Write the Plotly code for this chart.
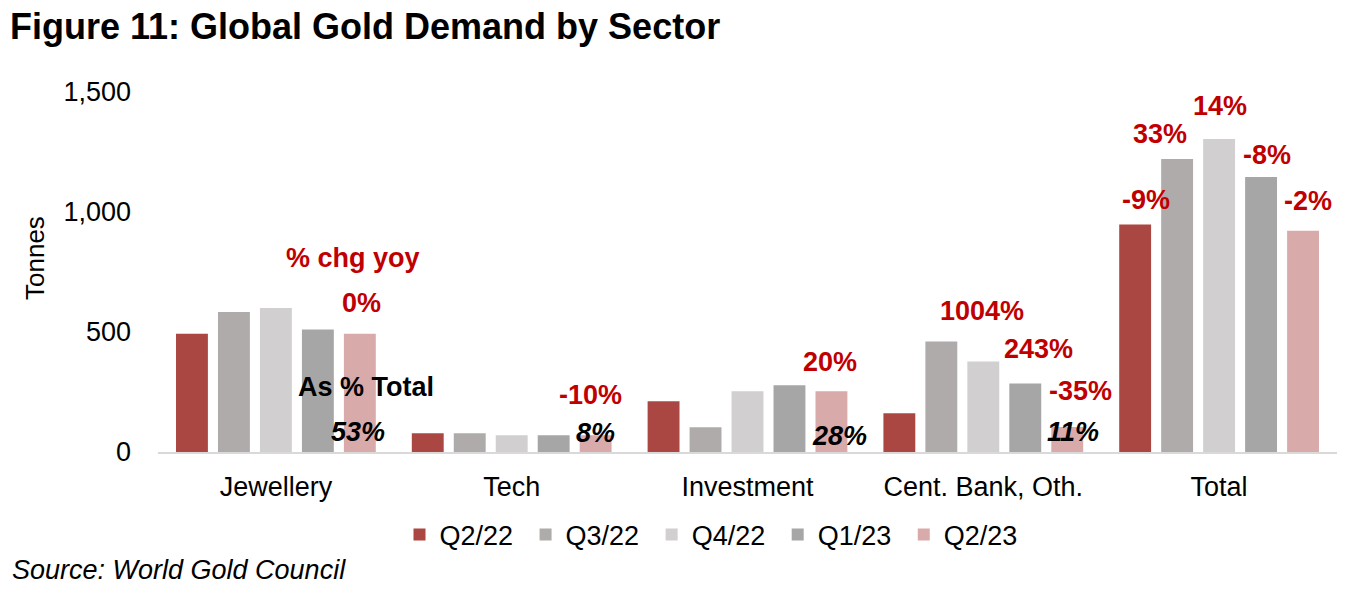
import plotly.graph_objects as go

categories = ["Jewellery", "Tech", "Investment", "Cent. Bank, Oth.", "Total"]
series_names = ["Q2/22", "Q3/22", "Q4/22", "Q1/23", "Q2/23"]
q2_22 = [493, 78, 211, 161, 948]
q3_22 = [583, 78, 103, 460, 1221]
q4_22 = [600, 70, 253, 377, 1304]
q1_23 = [510, 70, 278, 285, 1146]
q2_23 = [493, 70, 253, 104, 922]
values = [q2_22, q3_22, q4_22, q1_23, q2_23]
colors = ["#AB4743", "#AFABAA", "#D1CFD0", "#A6A6A6", "#D9AAAA"]

yoy_labels = ["0%", "-10%", "20%", "1004%", "243%", "-35%", "-9%", "33%", "14%", "-8%", "-2%"]
share_labels = ["53%", "8%", "28%", "11%"]
y_ticks = [0, 500, 1000, 1500]
y_tick_text = ["0", "500", "1,000", "1,500"]

FONT = "Liberation Sans, Arial, sans-serif"
RED = "#C00000"

W, H = 1357, 594
L, R, T, B = 158, 20, 92, 142
PW, PH = W - L - R, H - T - B

fig = go.Figure()
for name, vals, col in zip(series_names, values, colors):
    fig.add_trace(go.Bar(name=name + "\u00a0", x=categories, y=vals, marker_color=col,
                         marker_line_width=0))

# annotation placements: (category index, xshift px, y in tonnes)
yoy_pos = [(0, 86, 620), (1, 79, 236), (2, 82, 374), (3, -1, 586), (3, 55, 428),
           (3, 97, 253), (4, -73, 1049), (4, -59, 1324), (4, 1, 1440), (4, 48, 1236),
           (4, 89, 1045)]
share_pos = [(0, 82, 82), (1, 84, 78), (2, 92, 65), (3, 90, 82)]

ann = []
for txt, (ci, dx, yv) in zip(yoy_labels, yoy_pos):
    ann.append(dict(x=categories[ci], y=yv, xref="x", yref="y", xshift=dx,
                    text="<b>" + txt + "</b>",
                    showarrow=False, font=dict(family=FONT, size=27, color=RED)))
for txt, (ci, dx, yv) in zip(share_labels, share_pos):
    ann.append(dict(x=categories[ci], y=yv, xref="x", yref="y", xshift=dx,
                    text="<b><i>" + txt + "</i></b>",
                    showarrow=False, font=dict(family=FONT, size=27, color="black")))
ann.append(dict(x=categories[0], y=807, xref="x", yref="y", xshift=77, text="<b>% chg yoy</b>",
                showarrow=False, font=dict(family=FONT, size=27, color=RED)))
ann.append(dict(x=categories[0], y=270, xref="x", yref="y", xshift=90, text="<b>As % Total</b>",
                showarrow=False, font=dict(family=FONT, size=27, color="black")))
ann.append(dict(x=(35 - L) / PW, y=(H - B - 258) / PH, xref="paper", yref="paper",
                xanchor="center", yanchor="middle", text="Tonnes", textangle=-90,
                showarrow=False, font=dict(family=FONT, size=26, color="black")))
ann.append(dict(x=(10 - L) / PW, y=(H - B - 570) / PH, xref="paper", yref="paper",
                xanchor="left", yanchor="middle", text="<i>Source: World Gold Council</i>",
                showarrow=False, font=dict(family=FONT, size=27, color="black")))

fig.update_layout(
    width=W, height=H,
    margin=dict(l=L, r=R, t=T, b=B),
    paper_bgcolor="white", plot_bgcolor="white",
    barmode="group", bargap=0.11, bargroupgap=0.24,
    font=dict(family=FONT, size=27, color="black"),
    title=dict(text="<b>Figure 11: Global Gold Demand by Sector</b>", xref="container",
               yref="container", x=10 / W, xanchor="left",
               y=1 - 26 / H, yanchor="middle",
               font=dict(family=FONT, size=36, color="black")),
    legend=dict(orientation="h", x=(715 - L) / PW, xanchor="center",
                y=(H - B - 535) / PH, yanchor="middle", font=dict(family=FONT, size=27),
                bgcolor="rgba(0,0,0,0)"),
    annotations=ann,
    showlegend=True,
)
fig.update_xaxes(showline=True, linecolor="#D9D9D9", linewidth=2, showgrid=False,
                 ticks="", tickfont=dict(family=FONT, size=27), ticklabelstandoff=10)
fig.update_yaxes(range=[0, 1500], tickvals=y_ticks, ticktext=y_tick_text, showgrid=False,
                 zeroline=False, showline=False, ticks="", ticklabelstandoff=26,
                 tickfont=dict(family=FONT, size=27))

fig.write_html("out.html", config={"displayModeBar": False},
               post_script="document.body.style.margin='0px';document.body.style.overflow='hidden';")
